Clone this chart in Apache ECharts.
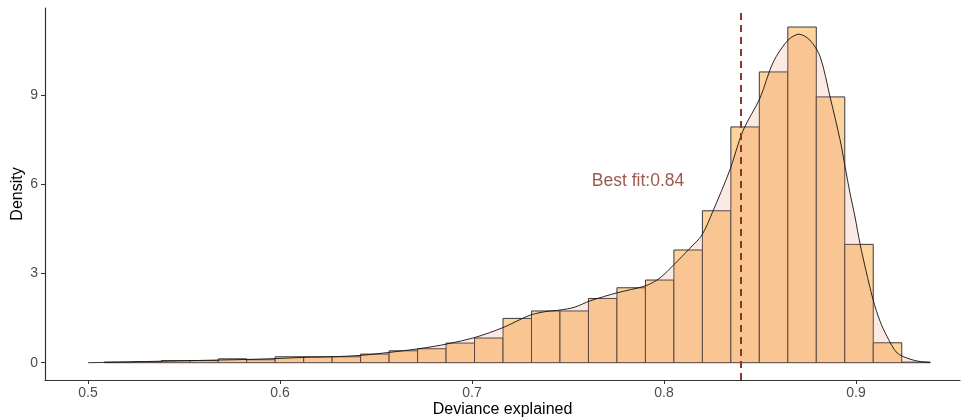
<!DOCTYPE html>
<html>
<head>
<meta charset="utf-8">
<script src="https://cdn.jsdelivr.net/npm/echarts@6/dist/echarts.min.js"></script>
<style>
html,body{margin:0;padding:0;background:#fff;}
#chart{width:962px;height:420px;}
</style>
</head>
<body>
<div id="chart"></div>
<script>
// ---- data ----
const binStart = 0.5085;
const binWidth = 0.014833;
const binHeights = [0.02, 0.03, 0.07, 0.07, 0.13, 0.10, 0.20, 0.20, 0.20, 0.29,
  0.40, 0.47, 0.66, 0.83, 1.49, 1.74, 1.74, 2.16, 2.52, 2.78,
  3.79, 5.11, 7.93, 9.78, 11.29, 8.94, 3.98, 0.67, 0.02];
const densityX = [0.5000, 0.5083, 0.5234, 0.5385, 0.5542, 0.5682, 0.5833, 0.5979, 0.6130, 0.6276,
  0.6427, 0.6573, 0.6724, 0.6870, 0.7021, 0.7161, 0.7250, 0.7313, 0.7385, 0.7458,
  0.7536, 0.7615, 0.7755, 0.7906, 0.7979, 0.8052, 0.8135, 0.8198, 0.8255, 0.8344,
  0.8411, 0.8500, 0.8568, 0.8646, 0.8703, 0.8760, 0.8813, 0.8865, 0.8917, 0.8943,
  0.8969, 0.8995, 0.9021, 0.9052, 0.9089, 0.9125, 0.9161, 0.9214, 0.9281, 0.9333, 0.9385];
const densityY = [0.00, 0.01, 0.03, 0.05, 0.07, 0.09, 0.11, 0.14, 0.18, 0.20,
  0.25, 0.35, 0.47, 0.63, 0.86, 1.18, 1.45, 1.62, 1.72, 1.77,
  1.87, 2.08, 2.35, 2.59, 2.85, 3.30, 3.85, 4.30, 5.10, 6.50,
  7.80, 8.90, 10.10, 10.85, 11.05, 10.85, 10.30, 8.94, 7.50, 6.60,
  5.70, 4.90, 4.00, 3.10, 2.12, 1.40, 0.89, 0.33, 0.12, 0.04, 0.01];
const xTicks = [0.5, 0.6, 0.7, 0.8, 0.9];
const yTicks = [0, 3, 6, 9];
const bestFit = 0.84;
const bestFitLabel = 'Best fit:0.84';
const labelPos = [0.7865, 6.1];

// ---- build ----
const bars = binHeights.map((h, i) => [binStart + i * binWidth, binStart + (i + 1) * binWidth, h]);
const density = densityX.map((x, i) => [x, densityY[i]]);
const axisColor = '#333333';
const tickLabelColor = '#4D4D4D';
const fontFamily = '"Liberation Sans", Arial, sans-serif';

const chart = echarts.init(document.getElementById('chart'), null, {renderer: 'canvas'});
chart.setOption({
  animation: false,
  backgroundColor: '#ffffff',
  grid: {left: 45, right: 2, top: 8, bottom: 40, containLabel: false, outerBoundsMode: 'none'},
  xAxis: {
    type: 'value',
    min: 0.4776, max: 0.95417,
    name: 'Deviance explained', nameLocation: 'middle', nameGap: 22, nameMoveOverlap: false,
    nameTextStyle: {color: '#000', fontSize: 16, fontFamily: fontFamily},
    axisLine: {show: true, onZero: false, lineStyle: {color: axisColor, width: 1.2}},
    axisTick: {show: true, length: 4, customValues: xTicks, lineStyle: {color: axisColor}},
    axisLabel: {customValues: xTicks, color: tickLabelColor, fontSize: 14, fontFamily: fontFamily, margin: 6,
      formatter: v => v.toFixed(1)},
    splitLine: {show: false}
  },
  yAxis: {
    type: 'value',
    min: -0.582, max: 11.93,
    name: 'Density', nameLocation: 'middle', nameGap: 19, nameRotate: 90, nameMoveOverlap: false,
    nameTextStyle: {color: '#000', fontSize: 16, fontFamily: fontFamily},
    axisLine: {show: true, onZero: false, lineStyle: {color: axisColor, width: 1.2}},
    axisTick: {show: true, length: 4, customValues: yTicks, lineStyle: {color: axisColor}},
    axisLabel: {customValues: yTicks, color: tickLabelColor, fontSize: 14, fontFamily: fontFamily, margin: 7},
    splitLine: {show: false}
  },
  series: [
    {
      type: 'custom',
      data: bars,
      z: 2,
      renderItem: function (params, api) {
        const p0 = api.coord([api.value(0), api.value(2)]);
        const p1 = api.coord([api.value(1), 0]);
        return {
          type: 'rect',
          shape: {x: p0[0], y: p0[1], width: p1[0] - p0[0], height: p1[1] - p0[1]},
          style: {fill: '#FDD49C', stroke: '#3a3a3a', lineWidth: 1}
        };
      },
      encode: {x: [0, 1], y: 2}
    },
    {
      type: 'line',
      data: density,
      z: 3,
      smooth: 0.3,
      symbol: 'none',
      lineStyle: {color: '#111', width: 0.9},
      areaStyle: {color: 'rgba(233,140,111,0.27)', origin: 0},
      markLine: {
        silent: true,
        symbol: ['none', 'none'],
        label: {show: false},
        lineStyle: {color: '#8B3626', type: [7, 5], width: 2},
        data: [{xAxis: bestFit}]
      }
    },
    {
      type: 'scatter',
      data: [labelPos],
      z: 4,
      symbolSize: 0,
      label: {show: true, position: 'inside', formatter: bestFitLabel, color: '#843022', fontSize: 17.5, fontFamily: fontFamily}
    }
  ]
});
</script>
</body>
</html>
